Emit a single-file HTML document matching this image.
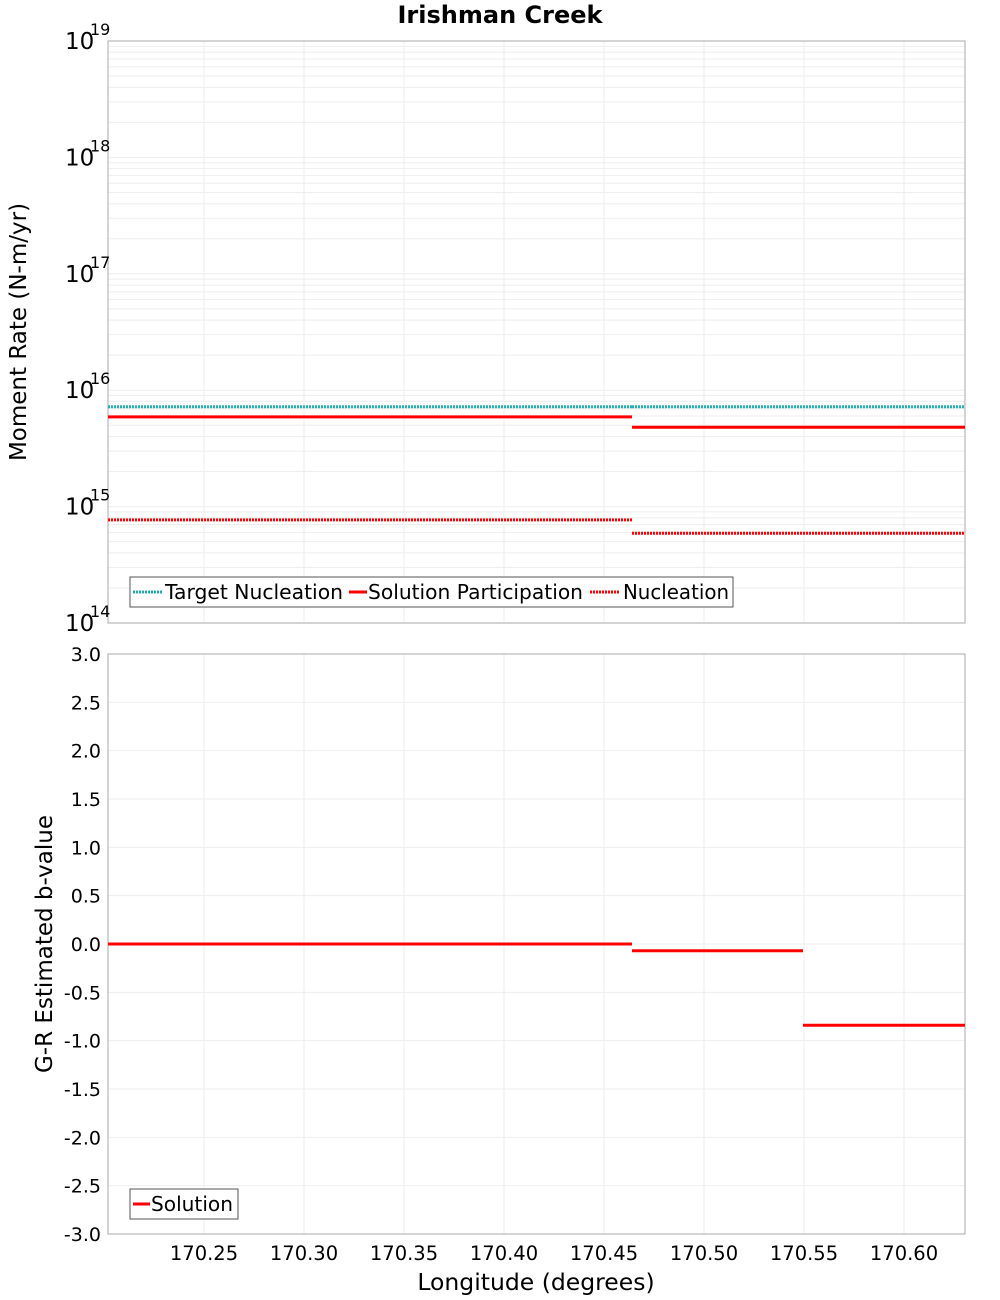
<!DOCTYPE html>
<html><head><meta charset="utf-8"><style>
body{margin:0;background:#fff}
svg{display:block;font-family:"DejaVu Sans","Liberation Sans",sans-serif}
</style></head><body>
<svg id="c" width="1000" height="1300"></svg>
<script>
const breaks=[170.202,170.464,170.5495,170.6305];
const targetNuc=[7.2e15,7.2e15,7.2e15];
const solPart=[5.9e15,4.8e15,4.8e15];
const nucleation=[7.7e14,5.9e14,5.9e14];
const bValues=[0.0,-0.07,-0.84];
const xTicks=[170.25,170.30,170.35,170.40,170.45,170.50,170.55,170.60];
const logTicks=[14,15,16,17,18,19];
const bTicks=[3.0,2.5,2.0,1.5,1.0,0.5,0.0,-0.5,-1.0,-1.5,-2.0,-2.5,-3.0];

const NS="http://www.w3.org/2000/svg",svg=document.getElementById('c');
function el(t,a,p){const e=document.createElementNS(NS,t);for(const k in a)e.setAttribute(k,a[k]);(p||svg).appendChild(e);return e;}
const L=108,R=965,T1=41,B1=623,T2=654,B2=1234;
const xs=v=>L+(v-breaks[0])/(breaks[3]-breaks[0])*(R-L);
const ly=v=>B1-(Math.log10(v)-14)/5*(B1-T1);
const by=v=>B2-(v+3)/6*(B2-T2);

let t=el('text',{x:500,y:23,'text-anchor':'middle','font-size':24,'font-weight':'bold'});t.textContent='Irishman Creek';


const g=el('g',{stroke:'#eeeeee','stroke-width':1});

xTicks.forEach(v=>{el('line',{x1:xs(v),x2:xs(v),y1:T1,y2:B1},g);el('line',{x1:xs(v),x2:xs(v),y1:T2,y2:B2},g);});
for(let d=14;d<19;d++)for(let m=1;m<10;m++){const y=ly(m*Math.pow(10,d));el('line',{x1:L,x2:R,y1:y,y2:y},g);}
bTicks.forEach(v=>el('line',{x1:L,x2:R,y1:by(v),y2:by(v)},g));

let f1=el('rect',{x:L,y:T1,width:R-L,height:B1-T1,fill:'none',stroke:'#aaa'});

let f2=el('rect',{x:L,y:T2,width:R-L,height:B2-T2,fill:'none',stroke:'#aaa'});


logTicks.forEach(d=>{const y=ly(Math.pow(10,d));
 const tx=el('text',{x:65,y:y+8,'font-size':23});tx.textContent='10';
 
 const s=el('text',{x:90,y:y-6,'font-size':16});s.textContent=String(d);
 });
bTicks.forEach(v=>{const tx=el('text',{x:101,y:by(v)+7,'font-size':19,'text-anchor':'end'});tx.textContent=v.toFixed(1);
 });
xTicks.forEach(v=>{const tx=el('text',{x:xs(v),y:1260,'font-size':19.5,'text-anchor':'middle'});tx.textContent=v.toFixed(2);
 });

let a1=el('text',{x:0,y:0,'font-size':23,'text-anchor':'middle',transform:'translate(26,332) rotate(-90)'});a1.textContent='Moment Rate (N-m/yr)';

let a2=el('text',{x:0,y:0,'font-size':23,'text-anchor':'middle',transform:'translate(52,944) rotate(-90)'});a2.textContent='G-R Estimated b-value';

let a3=el('text',{x:536,y:1290,'font-size':23.5,'text-anchor':'middle'});a3.textContent='Longitude (degrees)';


function series(vals,yf,color,dash,name){
 const gg=el('g',{});
 vals.forEach((v,i)=>{const a={x1:xs(breaks[i]),x2:xs(breaks[i+1]),y1:yf(v),y2:yf(v),stroke:color,'stroke-width':3};
  if(dash)a['stroke-dasharray']='2,1';el('line',a,gg);});}
series(targetNuc,ly,'#22b0b0',true,'target-nucleation-series');
series(solPart,ly,'#ff0000',false,'solution-participation-series');
series(nucleation,ly,'#ff0000',true,'nucleation-series');
series(bValues,by,'#ff0000',false,'b-value-series');

let lg=el('g',{});
el('rect',{x:130,y:577,width:603,height:30,fill:'#fff',stroke:'#555'},lg);
[[133,165,'#22b0b0',true,'Target Nucleation',178],[349,368,'#ff0000',false,'Solution Participation',215],[590,623,'#ff0000',true,'Nucleation',106]].forEach(e=>{
 const a={x1:e[0],x2:e[0]+(e[3]?29:18),y1:592,y2:592,stroke:e[2],'stroke-width':3};if(e[3])a['stroke-dasharray']='2,1';el('line',a,lg);
 const tx=el('text',{x:e[1],y:599,'font-size':20,textLength:e[5],lengthAdjust:'spacingAndGlyphs'},lg);tx.textContent=e[4];
 });
let lg2=el('g',{});
el('rect',{x:130,y:1189,width:108,height:30,fill:'#fff',stroke:'#555'},lg2);
el('line',{x1:133,x2:150,y1:1204,y2:1204,stroke:'#ff0000','stroke-width':3},lg2);
let tx=el('text',{x:151,y:1211,'font-size':20,textLength:82,lengthAdjust:'spacingAndGlyphs'},lg2);tx.textContent='Solution';

</script>
</body></html>
